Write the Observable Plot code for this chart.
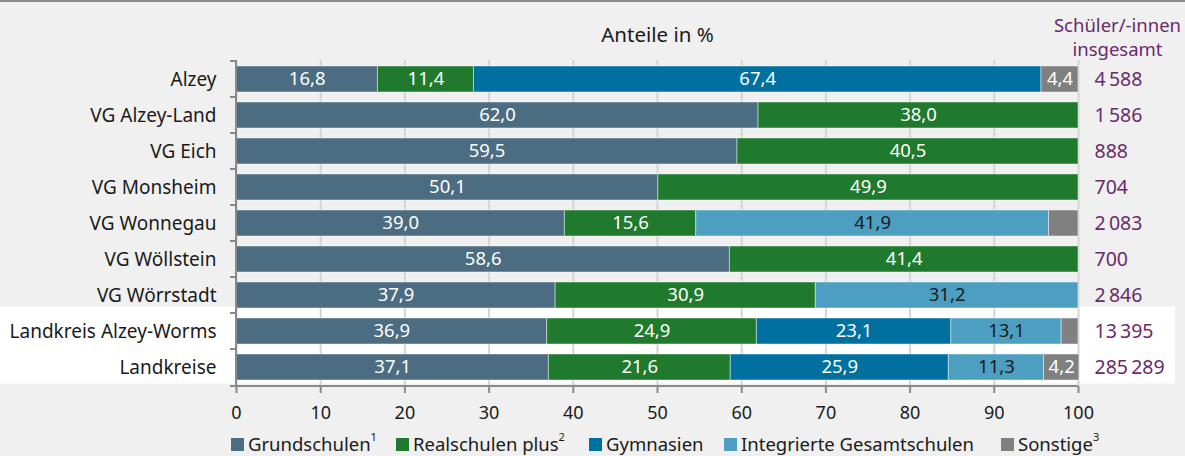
<!DOCTYPE html>
<html><head><meta charset="utf-8">
<script src="https://cdn.jsdelivr.net/npm/d3@7"></script>
<script src="https://cdn.jsdelivr.net/npm/@observablehq/plot@0.6"></script>
<style>
html,body{margin:0;padding:0;background:#eff0ef;}
body{width:1185px;height:456px;position:relative;overflow:hidden;font-family:"Noto Sans",sans-serif;}
#topline{position:absolute;left:0;top:0;width:1185px;height:2px;background:#8c8c8c;}
#chart{position:absolute;left:0;top:0;}
#legend{position:absolute;top:0;left:0;width:1185px;height:456px;font-size:18.5px;color:#1a1a1a;pointer-events:none;}
.item{position:absolute;top:434px;height:20px;line-height:20px;white-space:nowrap;display:flex;align-items:center;}
.sw{width:13px;height:13px;margin-right:4px;display:inline-block;}
.item sup{font-size:11px;line-height:0;position:relative;top:-3px;vertical-align:super;}
</style></head><body>
<div id="chart"></div><div id="legend"></div><div id="topline"></div>
<script>
// ---- data ----
const regions = ["Alzey","VG Alzey-Land","VG Eich","VG Monsheim","VG Wonnegau","VG Wöllstein","VG Wörrstadt","Landkreis Alzey-Worms","Landkreise"];
const types = ["Grundschulen","Realschulen plus","Gymnasien","Integrierte Gesamtschulen","Sonstige"];
const typeNotes = ["1","2","","","3"];
const colors = ["#4c6d81","#1f7a2d","#0070a0","#4d9fc2","#808080"];
const grundschulen = [16.8,62.0,59.5,50.1,39.0,58.6,37.9,36.9,37.1];
const realschulen  = [11.4,38.0,40.5,49.9,15.6,41.4,30.9,24.9,21.6];
const gymnasien    = [67.4,0,0,0,0,0,0,23.1,25.9];
const igs          = [0,0,0,0,41.9,0,31.2,13.1,11.3];
const sonstige     = [4.4,0,0,0,3.5,0,0,2.0,4.2];
const totals = [4588,1586,888,704,2083,700,2846,13395,285289];
const highlighted = ["Landkreis Alzey-Worms","Landkreise"];
const xTicks = [0,10,20,30,40,50,60,70,80,90,100];
const title = "Anteile in %";
const totalsHeader = "Schüler/-innen\ninsgesamt";

const purple = "#6a2a6c";
const series = [grundschulen, realschulen, gymnasien, igs, sonstige];
const rows = [];
regions.forEach((r, i) => series.forEach((s, k) => { if (s[i] > 0) rows.push({region: r, type: types[k], value: s[i]}); }));

const fmt = v => v.toLocaleString("de-DE", {minimumFractionDigits: 1, maximumFractionDigits: 1});
const fmtTotal = v => d3.format(",")(v).replace(/,/g, "\u2009");

function bandGeom(y) {
  const step = typeof y.step === "function" ? y.step() : (y(regions[1]) - y(regions[0]));
  const bw = typeof y.bandwidth === "function" ? y.bandwidth() : step * 0.72;
  return {step, bw};
}

// white highlight band behind the last two rows
function highlightBand(index, scales, values, dims) {
  const y = scales.y; const {step, bw} = bandGeom(y);
  const top = y(highlighted[0]) - 11.5;
  const bottom = y(highlighted[highlighted.length - 1]) + bw + 3.5;
  return d3.create("svg:rect").attr("x", 0).attr("y", top)
    .attr("width", dims.width - 10).attr("height", bottom - top).attr("fill", "#ffffff").node();
}

// axis lines with band-boundary stubs on the y axis
function axisLines(index, scales, values, dims) {
  const {x, y} = scales; const {step, bw} = bandGeom(y);
  const g = d3.create("svg:g").attr("stroke", "#8a8a8a").attr("stroke-width", 2).attr("fill", "none");
  const x0 = x(0), x1 = x(100);
  const yTop = dims.marginTop, yBot = dims.height - dims.marginBottom;
  g.append("line").attr("x1", x0).attr("x2", x0).attr("y1", yTop).attr("y2", yBot);
  g.append("line").attr("x1", x0 - 6).attr("x2", x1).attr("y1", yBot).attr("y2", yBot);
  regions.forEach(r => {
    const yy = y(r) + bw / 2 - step / 2;
    g.append("line").attr("x1", x0 - 6).attr("x2", x0).attr("y1", yy).attr("y2", yy);
  });
  return g.node();
}

const chart = Plot.plot({
  width: 1185, height: 428,
  marginLeft: 236, marginRight: 107, marginTop: 60, marginBottom: 42,
  style: {fontFamily: "'Noto Sans', sans-serif", fontSize: "18px", background: "transparent", color: "#1a1a1a"},
  x: {domain: [0, 100], label: null},
  y: {domain: regions, paddingInner: 0.28, paddingOuter: 0.14, label: null},
  color: {domain: types, range: colors},
  marks: [
    highlightBand,
    Plot.ruleX(xTicks, {stroke: "#d3d4d4", strokeWidth: 2}),
    Plot.barX(rows, Plot.stackX({x: "value", y: "region", fill: "type", stroke: "#ffffff", strokeOpacity: 0.45, strokeWidth: 1})),
    Plot.text(rows, Plot.stackX({x: "value", y: "region", z: "type",
      text: d => d.type !== types[3] && d.value >= 4 ? fmt(d.value) : null, fill: "white", fontSize: 18.5})),
    Plot.text(rows, Plot.stackX({x: "value", y: "region", z: "type",
      text: d => d.type === types[3] ? fmt(d.value) : null, fill: "#1a1a1a", fontSize: 18.5})),
    Plot.text(regions, {y: d => d, frameAnchor: "right", dx: 16, textAnchor: "start",
      text: (d, i) => fmtTotal(totals[i]), fill: purple, fontSize: 19.5}),
    Plot.axisY({tickSize: 0, tickPadding: 20, fontSize: 19, fill: "#1a1a1a", label: null}),
    Plot.axisX({ticks: xTicks, tickFormat: d => String(d), tickSize: 7, tickPadding: 13,
      stroke: "#8a8a8a", strokeWidth: 2, fill: "#1a1a1a", fontSize: 18, label: null}),
    axisLines,
    Plot.text([title], {frameAnchor: "top", dy: -33, fontSize: 20.5, fill: "#1a1a1a"}),
    Plot.text([totalsHeader], {frameAnchor: "top-right", dx: 39, dy: -24.5, textAnchor: "middle",
      lineAnchor: "middle", lineHeight: 1.3, fontSize: 18.5, fill: purple})
  ]
});
document.getElementById("chart").append(chart);

// legend
const legendLeft = [231, 396, 589, 724, 1001];
const legend = document.getElementById("legend");
types.forEach((t, k) => {
  const item = document.createElement("div");
  item.className = "item";
  item.style.left = legendLeft[k] + "px";
  const sw = document.createElement("span");
  sw.className = "sw"; sw.style.background = colors[k];
  item.append(sw);
  const label = document.createElement("span");
  label.textContent = t;
  if (typeNotes[k]) { const s = document.createElement("sup"); s.textContent = typeNotes[k]; label.append(s); }
  item.append(label);
  legend.append(item);
});
</script>
</body></html>
